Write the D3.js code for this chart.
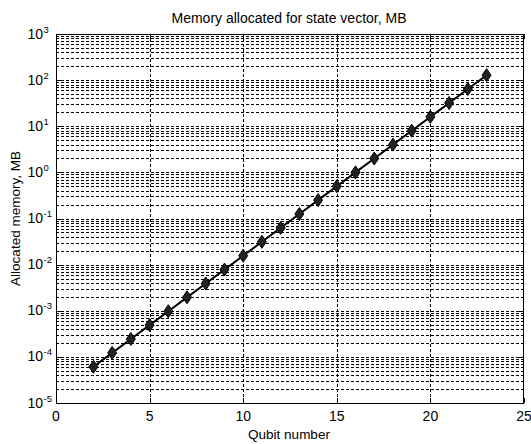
<!DOCTYPE html>
<html>
<head>
<meta charset="utf-8">
<script src="https://cdn.jsdelivr.net/npm/d3@7"></script>
<style>
  body { margin: 0; background: #fff; }
  svg text { font-family: "Liberation Sans", Arial, sans-serif; fill: #000; }
  .grid line { stroke: #000; stroke-width: 1; stroke-dasharray: 3,2; shape-rendering: crispEdges; }
</style>
</head>
<body>
<div id="chart"></div>
<script>
// values
var qubits = [2, 3, 4, 5, 6, 7, 8, 9, 10, 11, 12, 13, 14, 15, 16, 17, 18, 19, 20, 21, 22, 23];
var memoryMB = [0.000061, 0.000122, 0.000244, 0.000488, 0.000977, 0.00195, 0.0039, 0.0078,
  0.0156, 0.03125, 0.0625, 0.125, 0.25, 0.5, 1, 2, 4, 8, 16, 32, 64, 128];
var xTicks = [0, 5, 10, 15, 20, 25];
var yExponents = [-5, -4, -3, -2, -1, 0, 1, 2, 3];

var W = 531, H = 444;
var plotLeft = 56, plotRight = 524, plotTop = 34, plotBottom = 403;

var svg = d3.select("#chart").append("svg")
  .attr("width", W)
  .attr("height", H);

var x = d3.scaleLinear().domain([0, 25]).range([plotLeft, plotRight]);
var y = d3.scaleLog().domain([1e-5, 1e3]).range([plotBottom, plotTop]);

// minor values for log grid
var minor = [];
yExponents.slice(0, -1).forEach(function (e) {
  for (var k = 2; k <= 9; k++) minor.push(k * Math.pow(10, e));
});
var major = yExponents.map(function (e) { return Math.pow(10, e); });

var grid = svg.append("g").attr("class", "grid");
grid.selectAll("line.ym")
  .data(minor.concat(major.slice(1, -1)))
  .enter().append("line")
  .attr("x1", plotLeft).attr("x2", plotRight)
  .attr("y1", function (d) { return Math.round(y(d)) + 0.5; })
  .attr("y2", function (d) { return Math.round(y(d)) + 0.5; });
grid.selectAll("line.xg")
  .data(xTicks.slice(1, -1))
  .enter().append("line")
  .attr("y1", plotTop).attr("y2", plotBottom)
  .attr("x1", function (d) { return Math.round(x(d)) + 0.5; })
  .attr("x2", function (d) { return Math.round(x(d)) + 0.5; });

// ticks (inward, both sides)
var ticks = svg.append("g").attr("stroke", "#000").attr("shape-rendering", "crispEdges");
major.forEach(function (v) {
  var yy = Math.round(y(v)) + 0.5;
  ticks.append("line").attr("x1", plotLeft).attr("x2", plotLeft + 5).attr("y1", yy).attr("y2", yy);
  ticks.append("line").attr("x1", plotRight - 5).attr("x2", plotRight).attr("y1", yy).attr("y2", yy);
});
minor.forEach(function (v) {
  var yy = Math.round(y(v)) + 0.5;
  ticks.append("line").attr("x1", plotLeft).attr("x2", plotLeft + 3).attr("y1", yy).attr("y2", yy);
  ticks.append("line").attr("x1", plotRight - 3).attr("x2", plotRight).attr("y1", yy).attr("y2", yy);
});
xTicks.forEach(function (v) {
  var xx = Math.round(x(v)) + 0.5;
  ticks.append("line").attr("x1", xx).attr("x2", xx).attr("y1", plotBottom).attr("y2", plotBottom - 5);
  ticks.append("line").attr("x1", xx).attr("x2", xx).attr("y1", plotTop).attr("y2", plotTop + 5);
});

// box
svg.append("rect")
  .attr("x", plotLeft + 0.5).attr("y", plotTop + 0.5)
  .attr("width", plotRight - plotLeft - 1).attr("height", plotBottom - plotTop)
  .attr("fill", "none").attr("stroke", "#000").attr("stroke-width", 1)
  .attr("shape-rendering", "crispEdges");

// x tick labels
svg.selectAll("text.xt")
  .data(xTicks)
  .enter().append("text")
  .attr("x", function (d) { return x(d); })
  .attr("y", 421)
  .attr("text-anchor", "middle")
  .attr("font-size", 14)
  .text(function (d) { return d; });

// y tick labels 10^n
yExponents.forEach(function (e) {
  var yy = y(Math.pow(10, e));
  svg.append("text")
    .attr("x", 43)
    .attr("y", yy + 4.5)
    .attr("text-anchor", "end")
    .attr("font-size", 14)
    .text("10");
  svg.append("text")
    .attr("x", 43.5)
    .attr("y", yy - 1.5)
    .attr("font-size", 9.5)
    .text(e);
});

// line + markers
var line = d3.line()
  .x(function (d, i) { return x(qubits[i]); })
  .y(function (d) { return y(d); });
svg.append("path")
  .datum(memoryMB)
  .attr("d", line)
  .attr("fill", "none")
  .attr("stroke", "#000")
  .attr("stroke-width", 2);

svg.selectAll("path.mk")
  .data(memoryMB)
  .enter().append("path")
  .attr("d", "M0,-6.5L4.5,0L0,6.5L-4.5,0Z")
  .attr("transform", function (d, i) { return "translate(" + x(qubits[i]) + "," + y(d) + ")"; })
  .attr("fill", "#222")
  .attr("stroke", "#000")
  .attr("stroke-width", 1);

// title and labels
svg.append("text")
  .attr("x", (plotLeft + plotRight) / 2 - 1).attr("y", 23)
  .attr("text-anchor", "middle").attr("font-size", 14)
  .text("Memory allocated for state vector, MB");
svg.append("text")
  .attr("x", (plotLeft + plotRight) / 2 - 1).attr("y", 439)
  .attr("text-anchor", "middle").attr("font-size", 13.5)
  .text("Qubit number");
svg.append("text")
  .attr("transform", "translate(20," + (plotTop + plotBottom) / 2 + ") rotate(-90)")
  .attr("text-anchor", "middle").attr("font-size", 13.5)
  .text("Allocated memory, MB");
</script>
</body>
</html>
